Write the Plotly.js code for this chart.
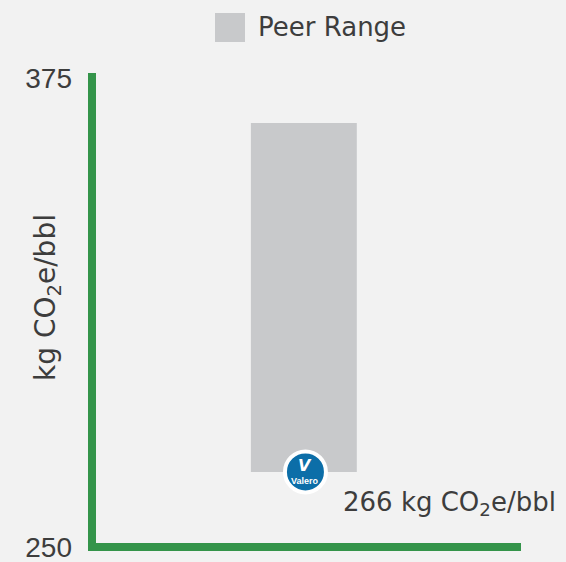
<!DOCTYPE html>
<html>
<head>
<meta charset="utf-8">
<script src="https://cdn.plot.ly/plotly-3.0.1.min.js"></script>
<style>html,body{margin:0;padding:0;background:#f2f2f2;}#chart{width:566px;height:562px;}</style>
</head>
<body>
<div id="chart"></div>
<script>
// Data
const seriesName = "Peer Range";
const peerLow = [270];
const peerHigh = [363];
const peerX = [2];
const valeroPlotted = [270];
const valeroLabel = "266 kg CO<sub>2</sub>e/bbl";
const yTicks = [250, 375];
const yTickText = ["250", "375"];
const yTitle = "kg CO<sub>2</sub>e/bbl";

const green = "#34944a";
const grey = "#c8c9cb";
const txt = "#3d3d3d";
const font = "DejaVu Sans, sans-serif";

const bar = {
  type: "bar",
  x: peerX,
  y: peerHigh.map((h, i) => h - peerLow[i]),
  base: peerLow,
  width: 1,
  marker: {color: grey},
  name: seriesName,
  showlegend: false,
  hoverinfo: "skip"
};

const logo = {
  type: "scatter",
  mode: "markers",
  x: peerX.map(v => v + 0.015),
  y: valeroPlotted,
  marker: {size: 41, color: "#0c6ea8", line: {color: "#ffffff", width: 4}},
  showlegend: false,
  hoverinfo: "skip",
  cliponaxis: false
};

const layout = {
  width: 566, height: 562,
  paper_bgcolor: "#f2f2f2", plot_bgcolor: "#f2f2f2",
  margin: {l: 92, r: 45, t: 78, b: 15},
  showlegend: false,
  xaxis: {range: [0, 4.05], showgrid: false, zeroline: false, showline: false, showticklabels: false, fixedrange: true},
  yaxis: {
    range: [249.98, 375.02], tickvals: yTicks, ticktext: yTickText,
    showgrid: false, zeroline: false, showline: false,
    ticks: "", ticklabelstandoff: 19, ticklabeloverflow: "allow",
    tickfont: {family: "Liberation Sans, Arial, sans-serif", size: 28, color: txt}
  },
  shapes: [
    {type: "line", xref: "paper", yref: "paper", x0: 0, x1: 0, y0: -4/469, y1: 1 + 5/469, line: {color: green, width: 8}},
    {type: "line", xref: "paper", yref: "paper", x0: -4/429, x1: 1, y0: 0, y1: 0, line: {color: green, width: 8}},
    {type: "rect", xref: "paper", yref: "paper", x0: (215-92)/429, x1: (245-92)/429, y0: (547-42)/469, y1: (547-13)/469, line: {width: 0}, fillcolor: grey}
  ],
  annotations: [
    {xref: "paper", yref: "paper", x: (256-92)/429, y: (547-27)/469, xanchor: "left", yanchor: "middle", showarrow: false,
     text: seriesName, font: {family: font, size: 26, color: txt}},
    {xref: "paper", yref: "paper", x: (47-92)/429, y: (547-298)/469, xanchor: "center", yanchor: "middle", showarrow: false,
     textangle: -90, text: yTitle, font: {family: font, size: 28, color: txt}},
    {xref: "x", yref: "y", x: 2.35, y: valeroPlotted[0], yshift: -32, xanchor: "left", yanchor: "middle", showarrow: false,
     text: valeroLabel, font: {family: font, size: 26, color: txt}},
    {xref: "x", yref: "y", x: peerX[0] + 0.015, y: valeroPlotted[0], yshift: 6, showarrow: false,
     text: "<b><i>V</i></b>", font: {family: "DejaVu Sans, sans-serif", size: 16, color: "#ffffff"}},
    {xref: "x", yref: "y", x: peerX[0] + 0.015, y: valeroPlotted[0], yshift: -9, showarrow: false,
     text: "<b>Valero</b>", font: {family: "Liberation Sans, Arial, sans-serif", size: 9, color: "#ffffff"}}
  ]
};

Plotly.newPlot("chart", [bar, logo], layout, {displayModeBar: false, staticPlot: true});
</script>
</body>
</html>
